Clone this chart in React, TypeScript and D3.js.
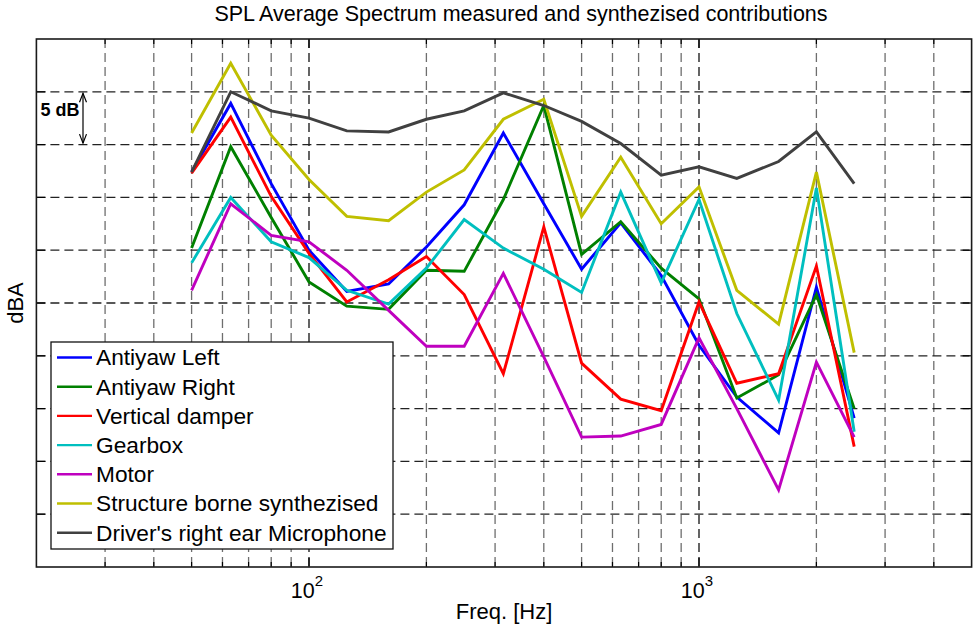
import React from "react";
import * as d3 from "d3";

const freqs = [50, 63, 80, 100, 125, 160, 200, 250, 315, 400, 500, 630, 800, 1000, 1250, 1600, 2000, 2500];

const antiyawLeft = [57.4, 63.9, 56.3, 50.0, 46.1, 46.8, 50.3, 54.3, 61.1, 54.4, 48.2, 52.6, 47.6, 41.0, 36.1, 32.7, 46.5, 34.1];
const antiyawRight = [50.2, 59.8, 53.1, 47.0, 44.7, 44.4, 48.1, 48.0, 54.8, 63.7, 49.6, 52.7, 48.3, 45.4, 36.0, 38.2, 45.8, 35.0];
const verticalDamper = [57.3, 62.6, 55.1, 49.7, 45.1, 47.2, 49.4, 45.8, 38.3, 52.2, 39.3, 35.9, 34.8, 45.1, 37.4, 38.3, 48.5, 31.4];
const gearbox = [48.8, 55.0, 50.8, 49.3, 46.2, 44.9, 48.3, 52.9, 50.2, 48.2, 46.0, 55.5, 46.9, 54.8, 44.0, 35.8, 55.9, 32.8];
const motor = [46.2, 54.4, 51.4, 50.8, 48.1, 44.3, 40.9, 40.9, 47.8, 39.9, 32.3, 32.4, 33.5, 41.7, 35.0, 27.3, 39.4, 32.3];
const structureBorne = [61.1, 67.7, 60.9, 56.7, 53.2, 52.8, 55.5, 57.6, 62.4, 64.3, 53.2, 58.8, 52.5, 56.0, 46.2, 43.0, 57.4, 40.3];
const driverMic = [57.4, 65.0, 63.2, 62.5, 61.3, 61.2, 62.4, 63.2, 64.9, 63.7, 62.2, 60.1, 57.1, 57.9, 56.8, 58.4, 61.2, 56.3];

const seriesNames = [
  "Antiyaw Left",
  "Antiyaw Right",
  "Vertical damper",
  "Gearbox",
  "Motor",
  "Structure borne synthezised",
  "Driver's right ear Microphone",
];
const seriesValues = [antiyawLeft, antiyawRight, verticalDamper, gearbox, motor, structureBorne, driverMic];
const seriesColors = ["#0000ff", "#008000", "#ff0000", "#00bfbf", "#bf00bf", "#bfbf00", "#404040"];

const xMajorTicks = [100, 1000];
const xMinorTicks = [30, 40, 50, 60, 70, 80, 90, 200, 300, 400, 500, 600, 700, 800, 900, 2000, 3000, 4000];
const yTicks = [25, 30, 35, 40, 45, 50, 55, 60, 65];

const W = 974;
const H = 625;
const FONT = "'Liberation Sans', Arial, Helvetica, sans-serif";

export default function App() {
  const x = d3.scaleLog().domain([20, 5000]).range([36.4, 971.6]);
  const y = d3.scaleLinear().domain([20, 70]).range([567, 39]);
  const [x0, x1] = x.range();
  const [y0, y1] = y.range();
  const line = d3
    .line<[number, number]>()
    .x((d) => x(d[0]))
    .y((d) => y(d[1]));

  const legendX = 51;
  const legendY = 342;
  const legendW = 342;
  const legendH = 207;
  const rowH = 29.2;

  const arrowX = 83;
  const aTop = y(65) + 1.5;
  const aBot = y(60) - 1.5;

  return (
    <svg
      width={W}
      height={H}
      style={{ position: "absolute", left: 0, top: 0, background: "#fff" }}
      fontFamily={FONT}
    >
      <rect x={0} y={0} width={W} height={H} fill="#fff" />
      {/* grid */}
      {xMinorTicks.map((t) => (
        <line key={"gx" + t} x1={x(t)} x2={x(t)} y1={y1} y2={y0} stroke="#6e6e6e" strokeWidth={1.3} strokeDasharray="9,5" />
      ))}
      {xMajorTicks.map((t) => (
        <line key={"gX" + t} x1={x(t)} x2={x(t)} y1={y1} y2={y0} stroke="#111" strokeWidth={1.3} strokeDasharray="9,5" />
      ))}
      {yTicks.map((t) => (
        <line key={"gy" + t} x1={x0} x2={x1} y1={y(t)} y2={y(t)} stroke="#222" strokeWidth={1.3} strokeDasharray="9,5" />
      ))}
      {/* ticks */}
      {xMinorTicks.map((t) => (
        <g key={"tx" + t} stroke="#000" strokeWidth={1.2}>
          <line x1={x(t)} x2={x(t)} y1={y0} y2={y0 - 5} />
          <line x1={x(t)} x2={x(t)} y1={y1} y2={y1 + 5} />
        </g>
      ))}
      {xMajorTicks.map((t) => (
        <g key={"tX" + t} stroke="#000" strokeWidth={1.2}>
          <line x1={x(t)} x2={x(t)} y1={y0} y2={y0 - 9} />
          <line x1={x(t)} x2={x(t)} y1={y1} y2={y1 + 9} />
        </g>
      ))}
      {yTicks.map((t) => (
        <g key={"ty" + t} stroke="#000" strokeWidth={1.2}>
          <line x1={x0} x2={x0 + 9} y1={y(t)} y2={y(t)} />
          <line x1={x1} x2={x1 - 9} y1={y(t)} y2={y(t)} />
        </g>
      ))}
      {/* series */}
      {seriesValues.map((vals, i) => (
        <path
          key={seriesNames[i]}
          d={line(freqs.map((f, j) => [f, vals[j]] as [number, number])) || ""}
          fill="none"
          stroke={seriesColors[i]}
          strokeWidth={2.9}
          strokeLinejoin="miter"
        />
      ))}
      {/* axes box */}
      <rect x={x0} y={y1} width={x1 - x0} height={y0 - y1} fill="none" stroke="#1a1a1a" strokeWidth={1.6} />
      {/* 5 dB annotation */}
      <text x={60} y={116} fontSize={18} fontWeight="bold" textAnchor="middle" fill="#000">5 dB</text>
      <g stroke="#000" strokeWidth={1.2} fill="none">
        <line x1={arrowX} x2={arrowX} y1={aTop} y2={aBot} />
        <polyline points={`${arrowX - 3.5},${aTop + 9} ${arrowX},${aTop} ${arrowX + 3.5},${aTop + 9}`} />
        <polyline points={`${arrowX - 3.5},${aBot - 9} ${arrowX},${aBot} ${arrowX + 3.5},${aBot - 9}`} />
      </g>
      {/* legend */}
      <rect x={legendX} y={legendY} width={legendW} height={legendH} fill="#fff" stroke="#111" strokeWidth={1.3} />
      {seriesNames.map((n, i) => {
        const cy = legendY + 15.5 + i * rowH;
        return (
          <g key={"lg" + n}>
            <line x1={57} x2={92} y1={cy} y2={cy} stroke={seriesColors[i]} strokeWidth={2.4} />
            <text x={96} y={cy + 7.8} fontSize={22.7} fill="#000">{n}</text>
          </g>
        );
      })}
      {/* x tick labels */}
      {xMajorTicks.map((t) => (
        <text key={"xl" + t} x={x(t) - 2} y={598} fontSize={21.5} textAnchor="middle" fill="#000">
          10
          <tspan fontSize={15} dy={-12}>{Math.round(Math.log10(t))}</tspan>
        </text>
      ))}
      {/* labels */}
      <text x={(x0 + x1) / 2} y={619} fontSize={22} textAnchor="middle" fill="#000">Freq. [Hz]</text>
      <text transform={`translate(23,${(y0 + y1) / 2}) rotate(-90)`} fontSize={22} textAnchor="middle" fill="#000">dBA</text>
      <text x={521} y={21} fontSize={21.5} textAnchor="middle" fill="#000">SPL Average Spectrum measured and synthezised contributions</text>
    </svg>
  );
}
